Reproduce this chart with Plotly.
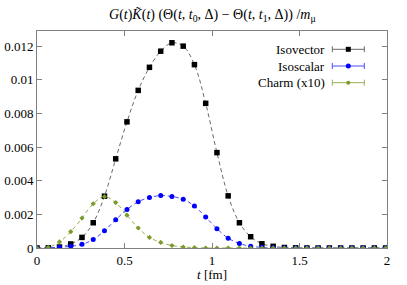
import plotly.graph_objects as go

# lattice times (fm)
t_fm = [0.0, 0.0643, 0.1285, 0.1928, 0.2570, 0.3213, 0.3856, 0.4498,
        0.5141, 0.5783, 0.6426, 0.7069, 0.7711, 0.8354, 0.8996, 0.9639,
        1.0282, 1.0924, 1.1567, 1.2209, 1.2852, 1.3495, 1.4137, 1.4780,
        1.5422, 1.6065, 1.6708, 1.7350, 1.7993, 1.8635, 1.9278, 1.9921]

isovector = [0.0, 0.00001, 0.00006, 0.00024, 0.00063, 0.0015, 0.00308, 0.0053,
             0.0075, 0.00937, 0.01074, 0.0117, 0.0122, 0.0120, 0.0109, 0.0086,
             0.00567, 0.0031, 0.0015, 0.00067, 0.00025, 0.0001, 0.00003, 0.00001,
             0.0, 0.0, 0.0, 0.0, 0.0, 0.0, 0.0, 0.0]

isoscalar = [0.0, 0.00001, 0.00004, 0.0001, 0.00022, 0.0005, 0.00103, 0.00168,
             0.00229, 0.00275, 0.0030, 0.00312, 0.00306, 0.0029, 0.00249, 0.00184,
             0.00115, 0.00058, 0.00027, 0.0001, 0.00004, 0.00001, 0.0, 0.0,
             0.0, 0.0, 0.0, 0.0, 0.0, 0.0, 0.0, 0.0]

charm_x10 = [0.0, 0.00004, 0.00036, 0.00097, 0.00178, 0.00263, 0.00305, 0.0027,
             0.00195, 0.00119, 0.00063, 0.00033, 0.00015, 0.00006, 0.00002, 0.0,
             0.0, 0.0, 0.0, 0.0, 0.0, 0.0, 0.0, 0.0,
             0.0, 0.0, 0.0, 0.0, 0.0, 0.0, 0.0, 0.0]

series_names = ["Isovector", "Isoscalar", "Charm (x10)"]
x_ticks = [0, 0.5, 1, 1.5, 2]
x_ticktext = ["0", "0.5", "1", "1.5", "2"]
y_ticks = [0, 0.002, 0.004, 0.006, 0.008, 0.010, 0.012]
y_ticktext = ["0", "0.002", "0.004", "0.006", "0.008", "0.01", "0.012"]

FONT = "Liberation Serif, Times New Roman, DejaVu Serif, serif"
styles = [
    dict(mc="#000000", lc="#6a6a6a", sym="square", size=5.5),
    dict(mc="#0000ff", lc="#4a4aff", sym="circle", size=5),
    dict(mc="#7a9a2a", lc="#9aae50", sym="diamond", size=4),
]

fig = go.Figure()
for ys, st in zip([isovector, isoscalar, charm_x10], styles):
    fig.add_trace(go.Scatter(x=t_fm, y=ys, mode="lines",
                             line=dict(color=st["lc"], width=1, dash="4px,3px", shape="spline", smoothing=1),
                             showlegend=False, hoverinfo="skip"))
for ys, st, nm in zip([isovector, isoscalar, charm_x10], styles, series_names):
    fig.add_trace(go.Scatter(x=t_fm, y=ys, mode="markers", name=nm,
                             marker=dict(color=st["mc"], symbol=st["sym"], size=st["size"], line=dict(width=0)),
                             showlegend=False))

W, H = 407, 285
L, R, T, B = 37, 20, 31, 37
pw, ph = W - L - R, H - T - B

def px2paper(px, py):
    return (px - L) / pw, (H - B - py) / ph

shapes = []
annotations = []
leg_y = [49.3, 66.0, 82.7]
for nm, st, py in zip(series_names, styles, leg_y):
    tx, ty = px2paper(327, py)
    annotations.append(dict(x=tx, y=ty, xref="paper", yref="paper", text=nm,
                            showarrow=False, xanchor="right", yanchor="middle",
                            font=dict(family=FONT, size=13, color="#000000")))
    x0, y0 = px2paper(332.3, py)
    x1, _ = px2paper(364.3, py)
    _, yc0 = px2paper(0, py - 3)
    _, yc1 = px2paper(0, py + 3)
    shapes.append(dict(type="line", xref="paper", yref="paper", x0=x0, x1=x1, y0=y0, y1=y0,
                       line=dict(color=st["lc"], width=1)))
    for xc in (x0, x1):
        shapes.append(dict(type="line", xref="paper", yref="paper", x0=xc, x1=xc, y0=yc0, y1=yc1,
                           line=dict(color=st["lc"], width=1)))
    xm, _ = px2paper(348.3, py)
    s = 2.5
    if st["sym"] == "square":
        shapes.append(dict(type="rect", xref="paper", yref="paper", xsizemode="pixel", ysizemode="pixel",
                           xanchor=xm, yanchor=y0, x0=-s, x1=s, y0=-s, y1=s,
                           fillcolor=st["mc"], line=dict(width=0)))
    elif st["sym"] == "circle":
        shapes.append(dict(type="circle", xref="paper", yref="paper", xsizemode="pixel", ysizemode="pixel",
                           xanchor=xm, yanchor=y0, x0=-s, x1=s, y0=-s, y1=s,
                           fillcolor=st["mc"], line=dict(width=0)))
    else:
        shapes.append(dict(type="circle", xref="paper", yref="paper", xsizemode="pixel", ysizemode="pixel",
                           xanchor=xm, yanchor=y0, x0=-2, x1=2, y0=-2, y1=2,
                           fillcolor=st["mc"], line=dict(width=0)))

title = ("<i>G</i>(<i>t</i>)<i>K&#771;</i>(<i>t</i>) (Θ(<i>t</i>, <i>t</i><sub>0</sub>, Δ) − "
         "Θ(<i>t</i>, <i>t</i><sub>1</sub>, Δ)) /<i>m</i><sub>μ</sub>")
tx, ty = px2paper(212, 15)
annotations.append(dict(x=tx, y=ty, xref="paper", yref="paper", text=title,
                        showarrow=False, xanchor="center", yanchor="middle",
                        font=dict(family=FONT, size=14, color="#000000")))
tx, ty = px2paper(212, 274)
annotations.append(dict(x=tx, y=ty, xref="paper", yref="paper",
                        text="<i>t</i> [fm]", showarrow=False, xanchor="center", yanchor="middle",
                        font=dict(family=FONT, size=13, color="#000000")))

axis_common = dict(showline=True, linecolor="#808080", linewidth=1, mirror="ticks",
                   ticks="inside", ticklen=5, tickcolor="#808080", tickwidth=1,
                   showgrid=False, zeroline=False, automargin=False,
                   tickfont=dict(family=FONT, size=13, color="#000000"))

fig.update_layout(
    width=W, height=H, margin=dict(l=L, r=R, t=T, b=B, autoexpand=False),
    paper_bgcolor="white", plot_bgcolor="white",
    font=dict(family=FONT, size=13, color="#000000"),
    xaxis=dict(range=[0, 2], tickvals=x_ticks, ticktext=x_ticktext, **axis_common),
    yaxis=dict(range=[0, 0.0129], tickvals=y_ticks, ticktext=y_ticktext, **axis_common),
    shapes=shapes, annotations=annotations, showlegend=False,
)
fig.write_html("out.html", config={"displayModeBar": False, "staticPlot": True},
               post_script="document.body.style.margin='0px';document.body.style.padding='0px';")
